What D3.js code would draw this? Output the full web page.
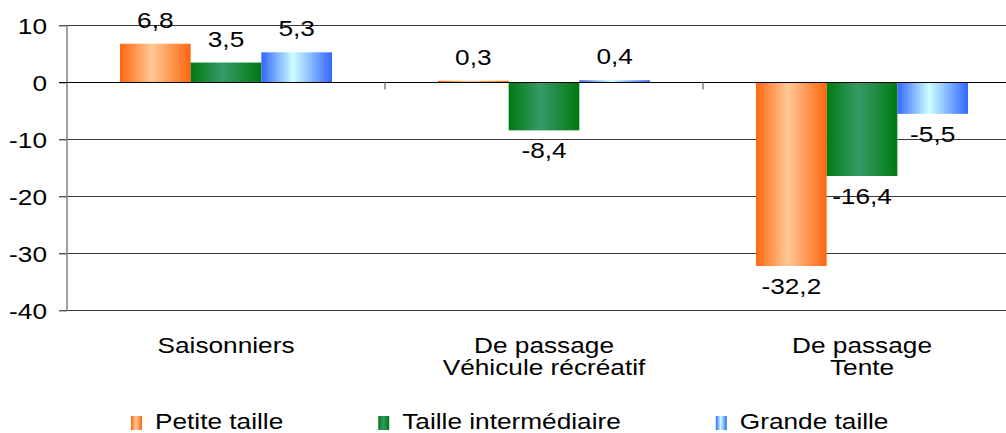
<!DOCTYPE html>
<html>
<head>
<meta charset="utf-8">
<script src="https://cdn.jsdelivr.net/npm/d3@7"></script>
<style>
  html, body { margin: 0; padding: 0; background: #fff; }
  svg { display: block; font-family: "Liberation Sans", Arial, sans-serif; }
</style>
</head>
<body>
<svg id="chart" width="1006" height="433"></svg>
<script>
// Données du graphique
const categories = ["Saisonniers", "De passage\nVéhicule récréatif", "De passage\nTente"];
const seriesNames = ["Petite taille", "Taille intermédiaire", "Grande taille"];
const petiteTaille = [6.8, 0.3, -32.2];
const tailleIntermediaire = [3.5, -8.4, -16.4];
const grandeTaille = [5.3, 0.4, -5.5];
const yTicks = [10, 0, -10, -20, -30, -40];

// Dégradés (bord, centre) pour chaque série
const gradients = [
    ["#ff6610", "#ffc896"],
    ["#007a10", "#359a68"],
    ["#3366ff", "#ccffff"]
];

const seriesValues = [petiteTaille, tailleIntermediaire, grandeTaille];
const fr = d3.formatLocale({decimal: ",", thousands: " ", grouping: [3], currency: ["", " €"], minus: "-"});
const fmt = fr.format(".1f");
const fmtTick = fr.format("d");

const svg = d3.select("#chart");
const SX = 1.22; // l'image d'origine est étirée horizontalement
const fontSize = 21.5;

// place un texte avec l'étirement horizontal
function placeText(sel, x, y) {
    sel.attr("transform", `translate(${x},${y}) scale(${SX},1)`);
}

const defs = svg.append("defs");
gradients.forEach((g, i) => {
    const lg = defs.append("linearGradient")
        .attr("id", "grad" + i)
        .attr("x1", "0%").attr("x2", "100%").attr("y1", "0%").attr("y2", "0%");
    lg.append("stop").attr("offset", "0%").attr("stop-color", g[0]);
    lg.append("stop").attr("offset", "45%").attr("stop-color", g[1]);
    lg.append("stop").attr("offset", "100%").attr("stop-color", g[0]);
});

// Échelles
const plotLeft = 67, plotRight = 1021;
const y = d3.scaleLinear().domain([-40, 10]).range([310.5, 25.5]);
const x0 = d3.scaleBand().domain(categories).range([plotLeft, plotRight]);
const x1 = d3.scaleBand().domain(d3.range(seriesNames.length))
    .range([0, x0.bandwidth()]).paddingInner(0).paddingOuter(0.75);

// Quadrillage
svg.append("g").selectAll("line")
    .data(yTicks.filter(d => d !== 0))
    .enter().append("line")
    .attr("x1", plotLeft - 8).attr("x2", 1006)
    .attr("y1", d => y(d)).attr("y2", d => y(d))
    .attr("stroke", "#3a3a3a").attr("stroke-width", 1);

// Barres
const bars = svg.append("g");
seriesValues.forEach((vals, s) => {
    bars.selectAll(".s" + s)
        .data(vals)
        .enter().append("rect")
        .attr("class", "s" + s)
        .attr("x", (d, i) => x0(categories[i]) + x1(s))
        .attr("width", x1.bandwidth())
        .attr("y", d => y(Math.max(0, d)))
        .attr("height", d => Math.abs(y(d) - y(0)))
        .attr("fill", `url(#grad${s})`);
});

// Axe Y
const yAxis = svg.append("g")
    .attr("transform", `translate(${plotLeft},0)`)
    .call(d3.axisLeft(y).tickValues(yTicks).tickSize(8).tickFormat(fmtTick));
yAxis.select(".domain").remove();
yAxis.selectAll(".tick line").attr("stroke", "#707070");
yAxis.selectAll(".tick text")
    .attr("x", null).attr("dy", null)
    .attr("text-anchor", "end")
    .attr("dominant-baseline", "central")
    .attr("font-size", fontSize)
    .attr("fill", "#000")
    .call(placeText, -20, 0);
svg.append("line")
    .attr("x1", plotLeft).attr("x2", plotLeft)
    .attr("y1", y(10)).attr("y2", y(-40))
    .attr("stroke", "#808080").attr("stroke-width", 1.5);

// Ligne du zéro et graduations de catégories
svg.append("line")
    .attr("x1", plotLeft - 8).attr("x2", 1006)
    .attr("y1", y(0)).attr("y2", y(0))
    .attr("stroke", "#000").attr("stroke-width", 1.2);
svg.append("g").selectAll("line")
    .data(categories.slice(1))
    .enter().append("line")
    .attr("x1", d => x0(d)).attr("x2", d => x0(d))
    .attr("y1", y(0)).attr("y2", y(0) + 7)
    .attr("stroke", "#808080").attr("stroke-width", 1.5);

// Étiquettes de données
const labels = svg.append("g")
    .attr("font-size", fontSize).attr("text-anchor", "middle").attr("fill", "#000");
seriesValues.forEach((vals, s) => {
    vals.forEach((v, i) => {
        const cx = x0(categories[i]) + x1(s) + x1.bandwidth() / 2;
        const ty = v >= 0 ? y(v) - 16 : y(v) + 28;
        labels.append("text").text(fmt(v)).call(placeText, cx, ty);
    });
});

// Étiquettes de catégories
const catG = svg.append("g")
    .attr("font-size", fontSize).attr("text-anchor", "middle").attr("fill", "#000");
categories.forEach(c => {
    c.split("\n").forEach((line, k) => {
        catG.append("text").text(line)
            .call(placeText, x0(c) + x0.bandwidth() / 2, 353 + k * 22);
    });
});

// Légende
const legend = svg.append("g").attr("font-size", fontSize).attr("fill", "#000");
let lx = 131;
seriesNames.forEach((name, s) => {
    legend.append("rect")
        .attr("x", lx).attr("y", 416).attr("width", 11).attr("height", 14)
        .attr("fill", `url(#grad${s})`);
    const t = legend.append("text").text(name).call(placeText, lx + 24, 429);
    const w = t.node().getComputedTextLength() * SX;
    lx += 24 + w + 95;
});
</script>
</body>
</html>
